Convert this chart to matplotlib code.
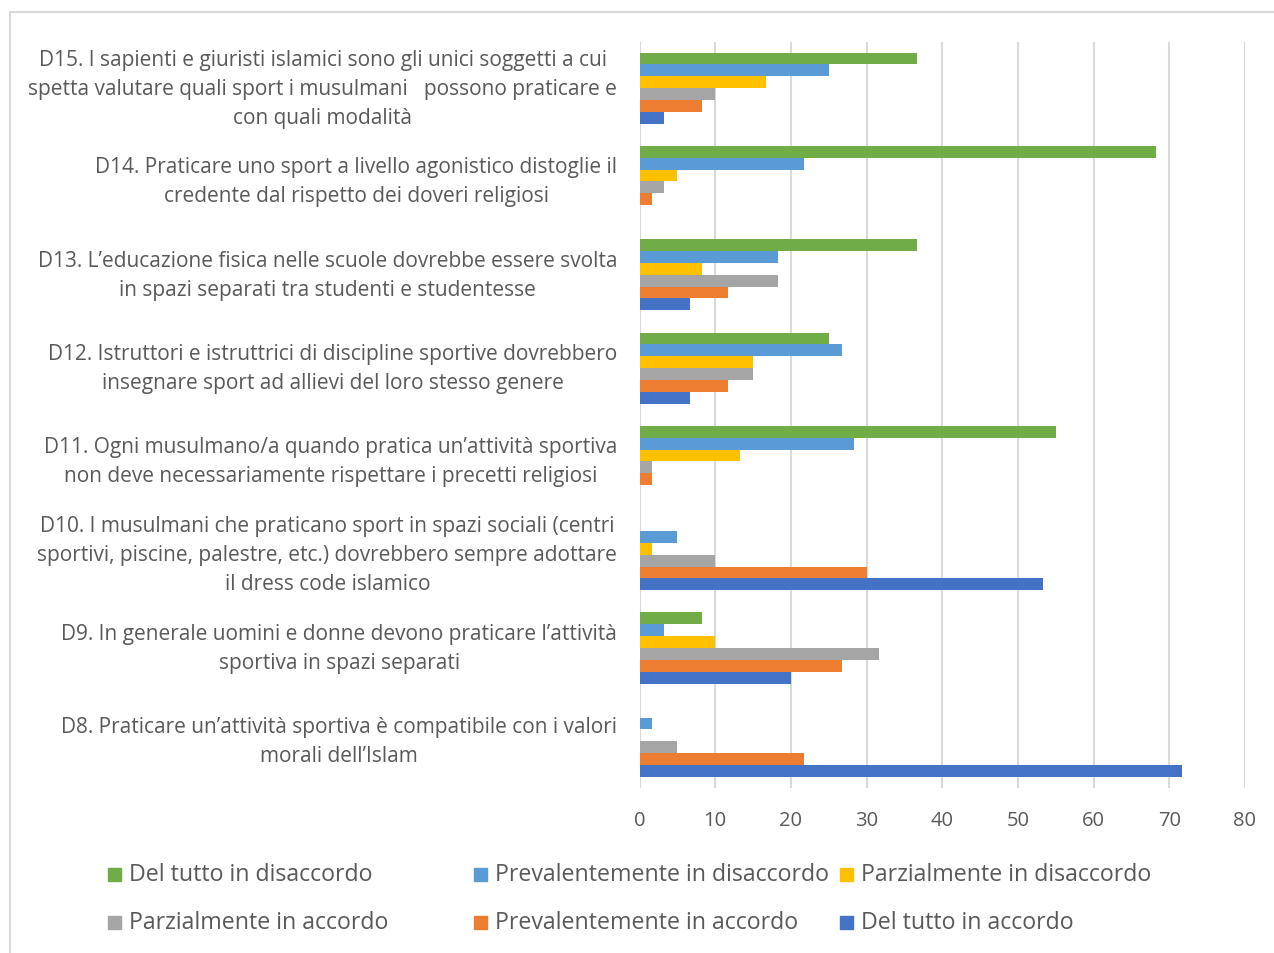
import numpy as np
import matplotlib.pyplot as plt
from matplotlib.patches import Rectangle

plt.rcParams['font.family'] = ['Open Sans', 'DejaVu Sans']

# Domande (dall'alto verso il basso)
questions = [
    "D15. I sapienti e giuristi islamici sono gli unici soggetti a cui\n"
    "spetta valutare quali sport i musulmani   possono praticare e\n"
    "con quali modalità",
    "D14. Praticare uno sport a livello agonistico distoglie il\n"
    "credente dal rispetto dei doveri religiosi",
    "D13. L’educazione fisica nelle scuole dovrebbe essere svolta\n"
    "in spazi separati tra studenti e studentesse",
    "D12. Istruttori e istruttrici di discipline sportive dovrebbero\n"
    "insegnare sport ad allievi del loro stesso genere",
    "D11. Ogni musulmano/a quando pratica un’attività sportiva\n"
    "non deve necessariamente rispettare i precetti religiosi",
    "D10. I musulmani che praticano sport in spazi sociali (centri\n"
    "sportivi, piscine, palestre, etc.) dovrebbero sempre adottare\n"
    "il dress code islamico",
    "D9. In generale uomini e donne devono praticare l’attività\n"
    "sportiva in spazi separati",
    "D8. Praticare un’attività sportiva è compatibile con i valori\n"
    "morali dell’Islam",
]

series_names = [
    "Del tutto in disaccordo",
    "Prevalentemente in disaccordo",
    "Parzialmente in disaccordo",
    "Parzialmente in accordo",
    "Prevalentemente in accordo",
    "Del tutto in accordo",
]

# valori in % per D15, D14, D13, D12, D11, D10, D9, D8
del_tutto_disaccordo = [36.7, 68.3, 36.7, 25.0, 55.0, 0.0, 8.3, 0.0]
prev_disaccordo = [25.0, 21.7, 18.3, 26.7, 28.3, 5.0, 3.3, 1.7]
parz_disaccordo = [16.7, 5.0, 8.3, 15.0, 13.3, 1.7, 10.0, 0.0]
parz_accordo = [10.0, 3.3, 18.3, 15.0, 1.7, 10.0, 31.7, 5.0]
prev_accordo = [8.3, 1.7, 11.7, 11.7, 1.7, 30.0, 26.7, 21.7]
del_tutto_accordo = [3.3, 0.0, 6.7, 6.7, 0.0, 53.3, 20.0, 71.7]

colors = ["#70AD47", "#5B9BD5", "#FFC000", "#A5A5A5", "#ED7D31", "#4472C4"]
text_color = "#595959"

all_series = [del_tutto_disaccordo, prev_disaccordo, parz_disaccordo,
              parz_accordo, prev_accordo, del_tutto_accordo]

fig = plt.figure(figsize=(12.74, 9.54), dpi=100)
ax = fig.add_axes([639.5 / 1274, 1 - 789 / 954, (1245 - 639.5) / 1274, (789 - 42.5) / 954])

n_cat = len(questions)
pos = np.arange(n_cat)[::-1].astype(float)  # D15 in alto
bar_h = 0.127
for i, (vals, col) in enumerate(zip(all_series, colors)):
    offset = (2.5 - i) * bar_h
    ax.barh(pos + offset, vals, height=bar_h, color=col, zorder=3)

ax.set_xlim(0, 80)
ax.set_ylim(-0.5, n_cat - 0.5)
ax.set_xticks(np.arange(0, 81, 10))
ax.set_yticks(pos)
ax.set_yticklabels(questions, ha='right', va='center', multialignment='center',
                   fontsize=15, color=text_color, linespacing=1.5)
ax.tick_params(axis='x', labelsize=14.5, colors=text_color, length=0, pad=16)
ax.tick_params(axis='y', length=0, pad=16)
ax.grid(axis='x', color='#D9D9D9', linewidth=1.5, zorder=0)
for s in ax.spines.values():
    s.set_visible(False)

# legenda
leg_x = [108, 474, 840]
leg_y = [875, 923]
for k, (name, col) in enumerate(zip(series_names, colors)):
    x = leg_x[k % 3]
    y = leg_y[k // 3]
    fig.patches.append(Rectangle((x / 1274, 1 - (y + 7) / 954), 13 / 1274, 13 / 954,
                                 transform=fig.transFigure, color=col, figure=fig))
    fig.text((x + 21) / 1274, 1 - y / 954, name, fontsize=16.7, color=text_color,
             va='center', ha='left')

# cornice
fig.patches.append(Rectangle((10 / 1274, -0.1), 1.1, 1 - 13 / 954 + 0.1,
                             transform=fig.transFigure, fill=False,
                             edgecolor='#D9D9D9', linewidth=1.5, figure=fig))

fig.savefig("out.png", dpi=100)
